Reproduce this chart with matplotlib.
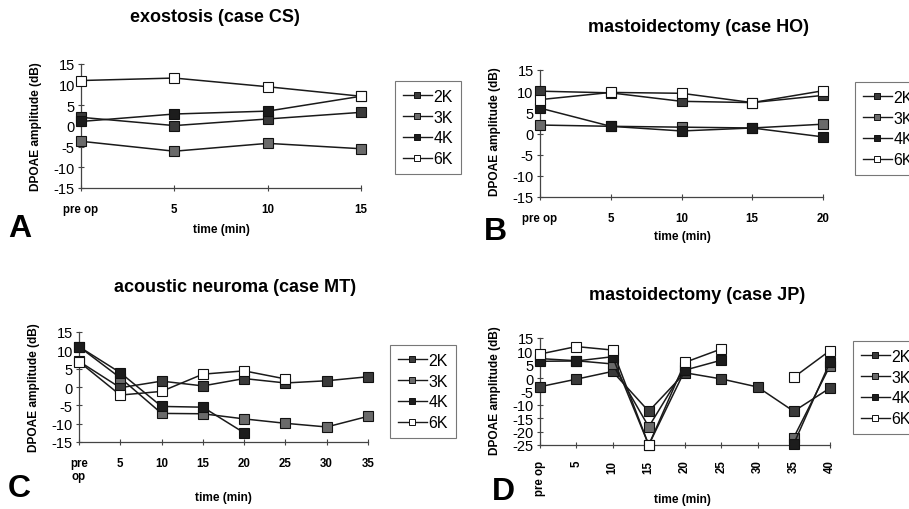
import matplotlib
matplotlib.use("Agg")
import matplotlib.pyplot as plt
from matplotlib.lines import Line2D

plt.rcParams['font.family'] = ['Liberation Sans', 'DejaVu Sans']

series_names = ["2K", "3K", "4K", "6K"]

# Panel A: exostosis (case CS)
a_cats = ["pre op", "5", "10", "15"]
a_2k = [2.1, 0.1, 1.7, 3.3]
a_3k = [-3.7, -6.1, -4.2, -5.5]
a_4k = [1.1, 2.9, 3.6, 7.2]
a_6k = [11.0, 11.6, 9.5, 7.2]

# Panel B: mastoidectomy (case HO)
b_cats = ["pre op", "5", "10", "15", "20"]
b_2k = [10.0, 9.6, 7.6, 7.3, 9.0]
b_3k = [2.0, 1.7, 1.5, 1.3, 2.2]
b_4k = [6.0, 1.7, 0.6, 1.3, -0.8]
b_6k = [8.0, 9.7, 9.5, 7.3, 10.1]

# Panel C: acoustic neuroma (case MT)
c_cats = ["pre\nop", "5", "10", "15", "20", "25", "30", "35"]
c_2k = [7.0, -0.2, 1.6, 0.3, 2.3, 1.1, 1.7, 2.8]
c_3k = [11.0, 2.5, -7.2, -7.3, -8.7, -9.9, -10.9, -8.0]
c_4k = [11.0, 3.9, -5.3, -5.5, -12.5, None, None, None]
c_6k = [6.9, -2.2, -1.2, 3.5, 4.4, 2.2, None, None]

# Panel D: mastoidectomy (case JP)
d_cats = ["pre op", "5", "10", "15", "20", "25", "30", "35", "40"]
d_2k = [-3.2, -0.4, 2.5, -12.4, 2.0, -0.3, -3.3, -12.4, -3.7]
d_3k = [7.3, 6.5, 5.3, -18.2, 4.0, None, None, -22.2, 4.6]
d_4k = [6.3, 6.4, 8.0, -25.0, 3.0, 6.7, None, -24.6, 6.0]
d_6k = [9.0, 11.8, 10.5, -25.0, 5.9, 10.9, None, 0.3, 10.3]

colors = {"2K": "#3a3a3a", "3K": "#6a6a6a", "4K": "#1c1c1c", "6K": "white"}
LINE_C = "#1a1a1a"

W, H = 909, 510
fig = plt.figure(figsize=(W / 100, H / 100), dpi=100)
fig.patch.set_facecolor("white")


def fx(px):
    return px / W


def fy(py):
    return 1 - py / H


def panel(rect, cats, data, ylim, yticks, title, tpos, letter, lpos, xlpos, ylpos,
          legpos, rotate=False):
    x0, ytop, x1, ybot = rect
    ax = fig.add_axes([fx(x0), fy(ybot), fx(x1 - x0), (ybot - ytop) / H])
    xs = list(range(len(cats)))
    for name, vals in zip(series_names, data):
        pv = [v if v is not None else float('nan') for v in vals]
        ax.plot(xs, pv, color=LINE_C, lw=1.1, marker="s", ms=6.5,
                mfc=colors[name], mec="#111111", mew=0.8, clip_on=False, zorder=3)
    ax.set_xlim(0, len(cats) - 1)
    ax.set_ylim(*ylim)
    for s in ["top", "right"]:
        ax.spines[s].set_visible(False)
    for s in ["left", "bottom"]:
        ax.spines[s].set_color("#444444")
        ax.spines[s].set_linewidth(0.9)
    ax.set_yticks(yticks)
    ax.set_yticklabels([str(t) for t in yticks], fontsize=10.5)
    ax.set_xticks(xs)
    if rotate:
        ax.set_xticklabels(cats, fontsize=8.3, fontweight="bold", rotation=90)
    else:
        ax.set_xticklabels(cats, fontsize=8.3, fontweight="bold")
    ax.tick_params(axis="both", direction="inout", length=5, width=0.8, color="#444444")
    ax.tick_params(axis="y", pad=2)
    ax.tick_params(axis="x", pad=8)
    ax.patch.set_alpha(0)
    fig.text(fx(tpos[0]), fy(tpos[1]), title, ha="center", va="center",
             fontsize=13, fontweight="bold")
    fig.text(fx(lpos[0]), fy(lpos[1]), letter, ha="left", va="baseline",
             fontsize=23, fontweight="bold")
    fig.text(fx(xlpos[0]), fy(xlpos[1]), "time (min)", ha="center", va="center",
             fontsize=8.6, fontweight="bold")
    fig.text(fx(ylpos[0]), fy(ylpos[1]), "DPOAE amplitude (dB)", ha="center", va="center",
             fontsize=8.6, fontweight="bold", rotation=90)
    handles = [Line2D([0], [0], color=LINE_C, lw=1.0, marker="s", ms=5,
                      mfc=colors[n], mec="#111111", mew=0.7) for n in series_names]
    leg = fig.legend(handles, series_names, loc="upper left",
                     bbox_to_anchor=(fx(legpos[0]), fy(legpos[1])),
                     bbox_transform=fig.transFigure, fontsize=11.5, frameon=True,
                     fancybox=False, edgecolor="#777777", framealpha=1,
                     handlelength=1.8, handletextpad=0.12, labelspacing=0.36,
                     borderpad=0.5, borderaxespad=0)
    leg.get_frame().set_linewidth(0.8)
    return ax


panel((81, 65, 361, 189), a_cats, [a_2k, a_3k, a_4k, a_6k], (-15, 15),
      [15, 10, 5, 0, -5, -10, -15], "exostosis (case CS)", (215, 18), "A", (8, 237),
      (221, 230), (36, 127), (395, 82))

panel((540, 71, 823, 198), b_cats, [b_2k, b_3k, b_4k, b_6k], (-15, 15),
      [15, 10, 5, 0, -5, -10, -15], "mastoidectomy (case HO)", (698, 27), "B", (484, 240),
      (682, 237), (495, 132), (855, 83))

panel((79, 333, 368, 443), c_cats, [c_2k, c_3k, c_4k, c_6k], (-15, 15),
      [15, 10, 5, 0, -5, -10, -15], "acoustic neuroma (case MT)", (235, 288), "C", (8, 497),
      (223, 498), (34, 388), (390, 346))

panel((540, 339, 830, 446), d_cats, [d_2k, d_3k, d_4k, d_6k], (-25, 15),
      [15, 10, 5, 0, -5, -10, -15, -20, -25], "mastoidectomy (case JP)", (697, 295), "D",
      (492, 500), (682, 500), (495, 391), (853, 342), rotate=True)

fig.savefig("out.png", dpi=100)
